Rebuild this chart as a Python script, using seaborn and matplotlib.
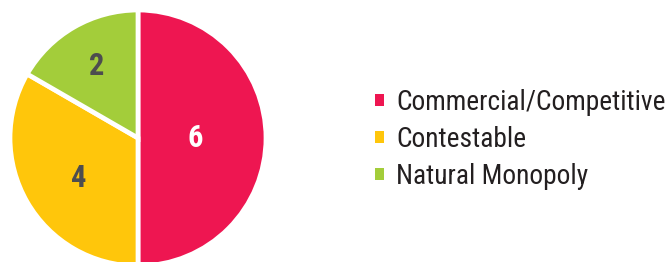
import numpy as np
import matplotlib
matplotlib.use("Agg")
import matplotlib.pyplot as plt
import seaborn as sns
from matplotlib import font_manager as fm

categories = ["Commercial/Competitive", "Contestable", "Natural Monopoly"]
values = [6, 4, 2]
colors = ["#EE1651", "#FFC60B", "#A3CD3A"]
label_colors = ["white", "#4D4D4F", "#4D4D4F"]
label_dist = [0.45, 0.56, 0.65]
label_ang_off = [0, 4, 0]

sns.set_theme(style="white")
names = {f.name for f in fm.fontManager.ttflist}
fam = next((n for n in ["Roboto Condensed", "Archivo Narrow", "PT Sans Narrow",
                        "Barlow Semi Condensed", "Fira Sans Condensed", "Roboto"]
            if n in names), "DejaVu Sans")
plt.rcParams['font.family'] = [fam, 'DejaVu Sans']

W, H = 669, 262
fig = plt.figure(figsize=(W/100, H/100), dpi=100)
cx, cy, r = 138, 124, 128
ax = fig.add_axes([(cx - r)/W, (cy - r)/H, 2*r/W, 2*r/H])
wedges, _ = ax.pie(values, colors=colors, startangle=90, counterclock=False,
                   radius=1, wedgeprops=dict(edgecolor="white", linewidth=3.4))
ax.set_xlim(-1, 1); ax.set_ylim(-1, 1)
ax.set_aspect("equal")
ax.axis("off")

for w, v, c, d, o in zip(wedges, values, label_colors, label_dist, label_ang_off):
    ang = np.deg2rad((w.theta1 + w.theta2) / 2 + o)
    ax.text(d*np.cos(ang), d*np.sin(ang), str(v), ha="center", va="center",
            color=c, fontsize=22, fontweight="bold")


def make_legend(fs, ls, top):
    leg = fig.legend(wedges, categories, loc="upper left",
                     bbox_to_anchor=(375/W, 1 - top/H), frameon=False,
                     fontsize=fs, handlelength=0.32, handleheight=0.32,
                     handletextpad=0.45, labelspacing=ls, borderaxespad=0,
                     borderpad=0)
    for t in leg.get_texts():
        t.set_color("#231F20")
    for h in leg.legend_handles:
        h.set_edgecolor("none"); h.set_linewidth(0)
    return leg


def measure(leg):
    rend = fig.canvas.get_renderer()
    ex = [t.get_window_extent(rend) for t in leg.get_texts()]
    width = ex[0].width
    tops = [H - e.y1 for e in ex]
    return width, tops, ex[0].x0


fs, ls, top = 20.0, 0.1, 84.0
target_w, target_tops = 269.0, [89.0, 126.5, 163.0]
leg = make_legend(fs, ls, top)
fig.canvas.draw()
for _ in range(3):
    w, tops, x0 = measure(leg)
    fs = fs * target_w / w
    leg.remove(); leg = make_legend(fs, ls, top); fig.canvas.draw()
    w, tops, x0 = measure(leg)
    pitch = (tops[2] - tops[0]) / 2
    ls = ls + (36.9 - pitch) / (fs * 100 / 72)
    leg.remove(); leg = make_legend(fs, ls, top); fig.canvas.draw()
    w, tops, x0 = measure(leg)
    top = top + (target_tops[0] - tops[0])
    leg.remove(); leg = make_legend(fs, ls, top); fig.canvas.draw()

fig.savefig("out.png", dpi=100)
